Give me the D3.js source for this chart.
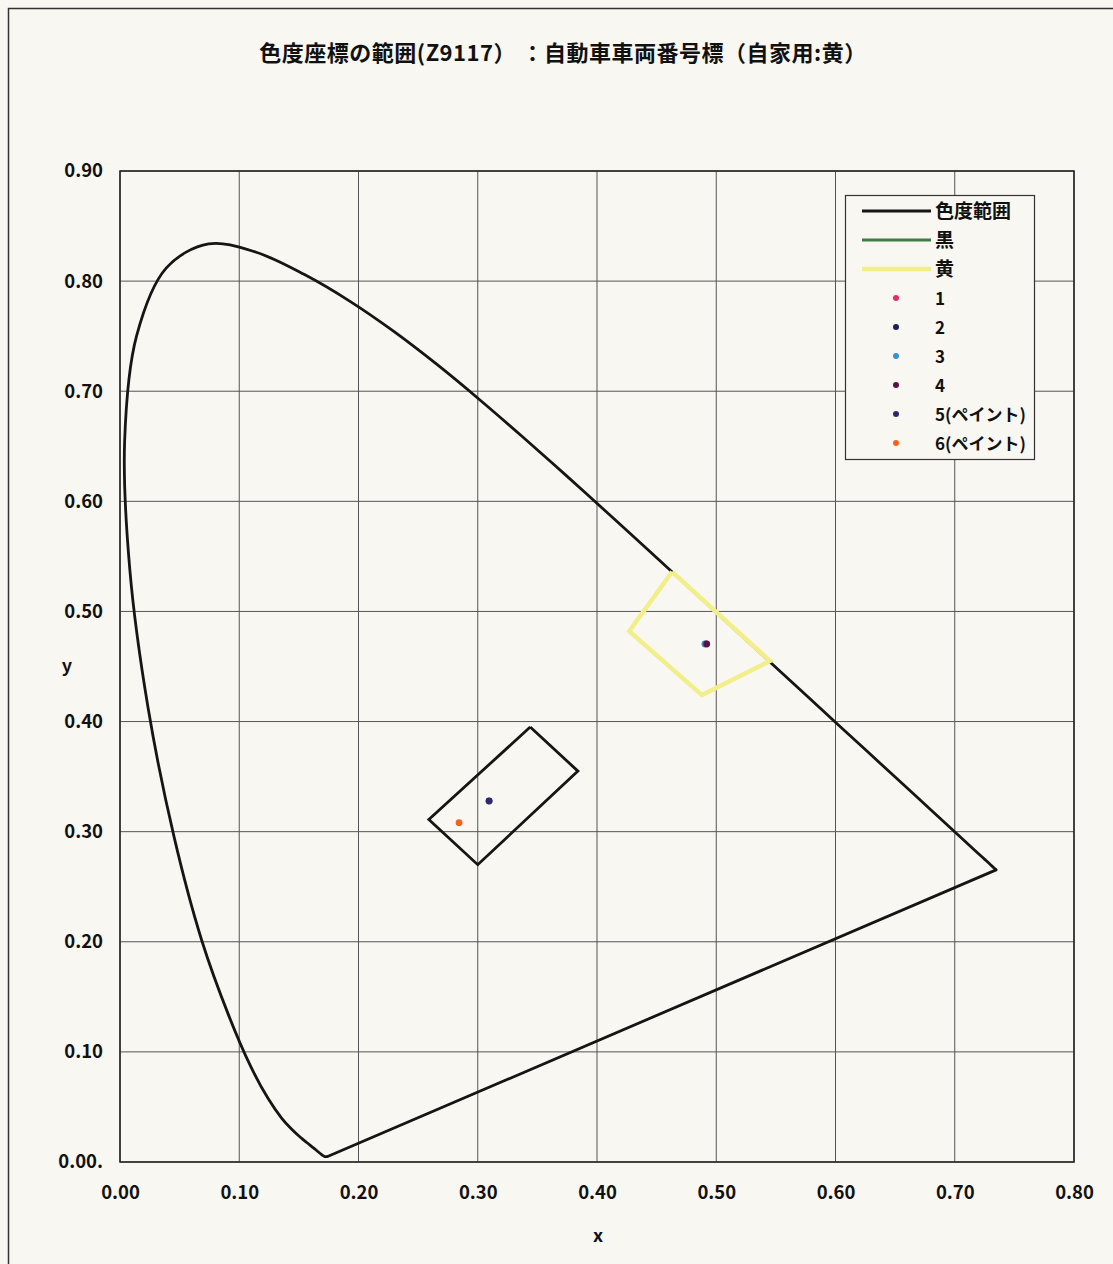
<!DOCTYPE html>
<html>
<head>
<meta charset="utf-8">
<script src="https://cdn.jsdelivr.net/npm/d3@7"></script>
<style>
  html, body { margin: 0; padding: 0; background: #f9f7f1; }
  svg { display: block; }
  text { font-family: "Noto Sans CJK JP", "Noto Sans", sans-serif; fill: #111; }
</style>
</head>
<body>
<div id="chart"></div>
<script>
(function() {
  'use strict';

  var title = '色度座標の範囲(Z9117） ：自動車車両番号標（自家用:黄）';

  // spectral locus, 380nm .. 700nm
  var locus_x = [0.1741, 0.1740, 0.1738, 0.1736, 0.1733, 0.1730, 0.1726, 0.1721, 0.1714, 0.1703,
    0.1689, 0.1669, 0.1644, 0.1611, 0.1566, 0.1510, 0.1440, 0.1355, 0.1241, 0.1096,
    0.0913, 0.0687, 0.0454, 0.0235, 0.0082, 0.0039, 0.0139, 0.0389, 0.0743, 0.1142,
    0.1547, 0.1929, 0.2296, 0.2658, 0.3016, 0.3373, 0.3731, 0.4087, 0.4441, 0.4788,
    0.5125, 0.5448, 0.5752, 0.6029, 0.6270, 0.6482, 0.6658, 0.6801, 0.6915, 0.7006,
    0.7079, 0.7140, 0.7190, 0.7230, 0.7260, 0.7283, 0.7300, 0.7311, 0.7320, 0.7327,
    0.7334, 0.7347];
  var locus_y = [0.0050, 0.0050, 0.0049, 0.0049, 0.0048, 0.0048, 0.0048, 0.0048, 0.0051, 0.0058,
    0.0069, 0.0086, 0.0109, 0.0138, 0.0177, 0.0227, 0.0297, 0.0399, 0.0578, 0.0868,
    0.1327, 0.2007, 0.2950, 0.4127, 0.5384, 0.6548, 0.7502, 0.8120, 0.8338, 0.8262,
    0.8059, 0.7816, 0.7543, 0.7243, 0.6923, 0.6589, 0.6245, 0.5896, 0.5547, 0.5202,
    0.4866, 0.4544, 0.4242, 0.3965, 0.3725, 0.3514, 0.3340, 0.3197, 0.3083, 0.2993,
    0.2920, 0.2859, 0.2809, 0.2770, 0.2740, 0.2717, 0.2700, 0.2689, 0.2680, 0.2673,
    0.2666, 0.2653];

  // 黒 range
  var black_x = [0.344, 0.384, 0.300, 0.259, 0.344];
  var black_y = [0.395, 0.355, 0.270, 0.311, 0.395];

  // 黄 range
  var yellow_x = [0.463, 0.545, 0.488, 0.427, 0.463];
  var yellow_y = [0.536, 0.455, 0.424, 0.482, 0.536];

  // measured samples
  var sample_names = ['1', '2', '3', '4', '5(ペイント)', '6(ペイント)'];
  var sample_x = [0.4915, 0.3095, 0.4905, 0.4920, 0.3095, 0.2843];
  var sample_y = [0.4705, 0.3280, 0.4705, 0.4705, 0.3278, 0.3082];
  var sample_colors = ['#e0306c', '#1c1f5e', '#3a8fd0', '#5a1242', '#2a2c6c', '#f0641e'];

  var legend_names = ['色度範囲', '黒', '黄'];
  var legend_colors = ['#151515', '#3f7d44', '#f2ee8a'];

  var x_ticks = [0, 0.1, 0.2, 0.3, 0.4, 0.5, 0.6, 0.7, 0.8];
  var x_tick_labels = ['0.00', '0.10', '0.20', '0.30', '0.40', '0.50', '0.60', '0.70', '0.80'];
  var y_ticks = [0, 0.1, 0.2, 0.3, 0.4, 0.5, 0.6, 0.7, 0.8, 0.9];
  var y_tick_labels = ['0.00.', '0.10', '0.20', '0.30', '0.40', '0.50', '0.60', '0.70', '0.80', '0.90'];

  var svg_width = 1113;
  var svg_height = 1264;
  var plot = { left: 120, right: 1074, top: 171, bottom: 1162 };

  var svg = d3.select('#chart').append('svg')
    .attr('width', svg_width)
    .attr('height', svg_height);

  svg.append('rect')
    .attr('width', svg_width)
    .attr('height', svg_height)
    .attr('fill', '#f9f7f1');

  // page frame
  svg.append('path')
    .attr('d', 'M8.5,' + svg_height + 'V8.5H' + svg_width)
    .attr('fill', 'none')
    .attr('stroke', '#333')
    .attr('stroke-width', 1.5);

  var x = d3.scaleLinear().domain([0, 0.8]).range([plot.left, plot.right]);
  var y = d3.scaleLinear().domain([0, 0.9]).range([plot.bottom, plot.top]);

  // grid
  svg.append('g')
    .selectAll('line.vgrid')
    .data(x_ticks)
    .enter()
    .append('line')
    .attr('x1', function(d) { return x(d); })
    .attr('x2', function(d) { return x(d); })
    .attr('y1', plot.top)
    .attr('y2', plot.bottom)
    .attr('stroke', '#555')
    .attr('stroke-width', 1);

  svg.append('g')
    .selectAll('line.hgrid')
    .data(y_ticks)
    .enter()
    .append('line')
    .attr('x1', plot.left)
    .attr('x2', plot.right)
    .attr('y1', function(d) { return y(d); })
    .attr('y2', function(d) { return y(d); })
    .attr('stroke', '#555')
    .attr('stroke-width', 1);

  svg.append('rect')
    .attr('x', plot.left)
    .attr('y', plot.top)
    .attr('width', plot.right - plot.left)
    .attr('height', plot.bottom - plot.top)
    .attr('fill', 'none')
    .attr('stroke', '#222')
    .attr('stroke-width', 1.5);

  // axes labels
  var x_axis = d3.axisBottom(x)
    .tickValues(x_ticks)
    .tickSize(0)
    .tickPadding(24)
    .tickFormat(function(d, i) { return x_tick_labels[i]; });
  var gx = svg.append('g')
    .attr('transform', 'translate(0,' + plot.bottom + ')')
    .call(x_axis);
  gx.select('.domain').remove();
  gx.selectAll('text')
    .style('font-size', '18.5px')
    .style('font-weight', '600')
    .attr('fill', '#111');

  var y_axis = d3.axisLeft(y)
    .tickValues(y_ticks)
    .tickSize(0)
    .tickPadding(17)
    .tickFormat(function(d, i) { return y_tick_labels[i]; });
  var gy = svg.append('g')
    .attr('transform', 'translate(' + plot.left + ',0)')
    .call(y_axis);
  gy.select('.domain').remove();
  gy.selectAll('text')
    .style('font-size', '18.5px')
    .style('font-weight', '600')
    .attr('fill', '#111');

  svg.append('text')
    .attr('x', 598)
    .attr('y', 1242)
    .attr('text-anchor', 'middle')
    .style('font-size', '18px')
    .style('font-weight', '600')
    .text('x');
  svg.append('text')
    .attr('x', 67)
    .attr('y', 672)
    .attr('text-anchor', 'middle')
    .style('font-size', '18px')
    .style('font-weight', '600')
    .text('y');

  svg.append('text')
    .attr('x', 563)
    .attr('y', 61)
    .attr('text-anchor', 'middle')
    .style('font-size', '22px')
    .style('font-weight', '600')
    .style('letter-spacing', '0.5px')
    .text(title);

  var line = d3.line()
    .x(function(d) { return x(d[0]); })
    .y(function(d) { return y(d[1]); });

  var smooth = d3.line()
    .curve(d3.curveCatmullRom.alpha(0.5))
    .x(function(d) { return x(d[0]); })
    .y(function(d) { return y(d[1]); });

  function zip(xs, ys) {
    return xs.map(function(v, i) { return [v, ys[i]]; });
  }

  var locus = zip(locus_x, locus_y);

  svg.append('path')
    .datum(locus)
    .attr('d', smooth)
    .attr('fill', 'none')
    .attr('stroke', '#151515')
    .attr('stroke-width', 2.8)
    .attr('stroke-linejoin', 'round');

  // purple line closing the locus
  svg.append('path')
    .datum([locus[locus.length - 1], locus[0]])
    .attr('d', line)
    .attr('fill', 'none')
    .attr('stroke', '#151515')
    .attr('stroke-width', 2.8)
    .attr('stroke-linecap', 'round');

  svg.append('path')
    .datum(zip(yellow_x, yellow_y))
    .attr('d', line)
    .attr('fill', 'none')
    .attr('stroke', legend_colors[2])
    .attr('stroke-width', 4.5)
    .attr('stroke-linejoin', 'miter');

  svg.append('path')
    .datum(zip(black_x, black_y))
    .attr('d', line)
    .attr('fill', 'none')
    .attr('stroke', '#151515')
    .attr('stroke-width', 2.8);

  svg.append('g')
    .selectAll('circle')
    .data(sample_names)
    .enter()
    .append('circle')
    .attr('cx', function(d, i) { return x(sample_x[i]); })
    .attr('cy', function(d, i) { return y(sample_y[i]); })
    .attr('r', 3.4)
    .attr('fill', function(d, i) { return sample_colors[i]; });

  // legend
  var legend = svg.append('g').attr('transform', 'translate(845,195)');
  legend.append('rect')
    .attr('x', 0.5)
    .attr('y', 0.5)
    .attr('width', 189)
    .attr('height', 264)
    .attr('fill', '#f9f7f1')
    .attr('stroke', '#333')
    .attr('stroke-width', 1.2);

  var row_h = 29;
  legend_names.forEach(function(name, i) {
    var ly = 16 + i * row_h;
    legend.append('line')
      .attr('x1', 17)
      .attr('x2', 86)
      .attr('y1', ly)
      .attr('y2', ly)
      .attr('stroke', legend_colors[i])
      .attr('stroke-width', i === 2 ? 4.5 : 3);
    legend.append('text')
      .attr('x', 90)
      .attr('y', ly + 7)
      .style('font-size', '19px')
      .style('font-weight', '600')
      .text(name);
  });

  sample_names.forEach(function(name, i) {
    var ly = 16 + (i + 3) * row_h;
    legend.append('circle')
      .attr('cx', 51)
      .attr('cy', ly)
      .attr('r', 3)
      .attr('fill', sample_colors[i]);
    legend.append('text')
      .attr('x', 90)
      .attr('y', ly + 7)
      .style('font-size', '17px')
      .style('font-weight', '600')
      .text(name);
  });

})();
</script>
</body>
</html>
